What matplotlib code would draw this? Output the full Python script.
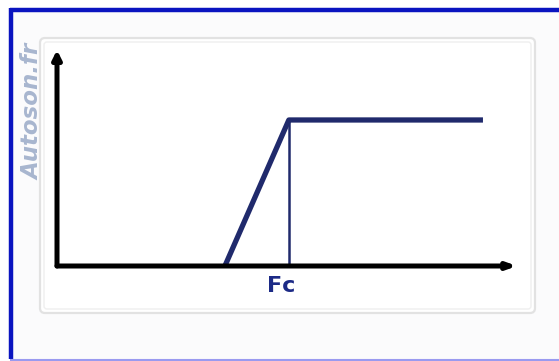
import matplotlib
matplotlib.use("Agg")
import matplotlib.pyplot as plt
from matplotlib.patches import FancyBboxPatch
from matplotlib.transforms import ScaledTranslation

# Data (axis units 0..100)
freq = [36.5, 50.4, 92.6]
gain = [0, 67.6, 67.6]
fc = 50.4
tick_labels = ["Fc"]
watermark = "Autoson.fr"

W, H = 559, 361
fig = plt.figure(figsize=(W / 100, H / 100), dpi=100)
fig.patch.set_facecolor("white")

# background / decoration axes in pixel coordinates
bg = fig.add_axes([0, 0, 1, 1])
bg.set_xlim(0, W)
bg.set_ylim(H, 0)
bg.axis("off")
bg.add_patch(plt.Rectangle((10, 8), W - 10, H - 9, facecolor="#fbfbfc", edgecolor="none"))
bg.plot([10, W], [9.5, 9.5], color="#0a14c0", lw=3.2, solid_capstyle="butt")
bg.plot([10.5, 10.5], [8, H - 2], color="#0a14c0", lw=3.2, solid_capstyle="butt")
bg.plot([10, W], [359.5, 359.5], color="#9a9af0", lw=1.5, solid_capstyle="butt")
bg.add_patch(FancyBboxPatch((40, 38), 495, 275, boxstyle="round,pad=0,rounding_size=5",
                            facecolor="white", edgecolor="#e2e2e2", lw=1.6))
bg.add_patch(FancyBboxPatch((44, 42), 487, 267, boxstyle="round,pad=0,rounding_size=3",
                            facecolor="none", edgecolor="#efefef", lw=1.0))
bg.text(33, 112, watermark, rotation=90, ha="center", va="center", fontsize=16.5,
        fontweight="bold", fontstyle="italic", color="#a8b6cf", family="DejaVu Sans")

# plot axes
x0, x1 = 57, 517
y0, y1 = 266, 50
ax = fig.add_axes([x0 / W, (H - y0) / H, (x1 - x0) / W, (y0 - y1) / H])
ax.set_xlim(0, 100)
ax.set_ylim(0, 100)
ax.patch.set_alpha(0)
for s in ax.spines.values():
    s.set_visible(False)
ax.set_yticks([])
ax.set_xticks([fc])
ax.set_xticklabels(tick_labels, fontsize=16, fontweight="heavy", color="#1c2a86")
ax.tick_params(axis="x", length=0, pad=7)
for lbl in ax.get_xticklabels():
    lbl.set_transform(lbl.get_transform() + ScaledTranslation(-0.08, 0, fig.dpi_scale_trans))

ax.plot(freq, gain, color="#202a6c", lw=3.8, solid_capstyle="butt")
ax.plot([fc, fc], [0, gain[1]], color="#202a6c", lw=1.8)

ax.annotate("", xy=(1.0, 0), xytext=(0, 0), xycoords="axes fraction",
            arrowprops=dict(arrowstyle="-|>,head_length=0.5,head_width=0.18", color="black", lw=3.6,
                            shrinkA=0, shrinkB=0))
ax.annotate("", xy=(0, 1.0), xytext=(0, 0), xycoords="axes fraction",
            arrowprops=dict(arrowstyle="-|>,head_length=0.5,head_width=0.25", color="black", lw=3.6,
                            shrinkA=0, shrinkB=0))

fig.savefig("out.png", dpi=100, facecolor=fig.get_facecolor())
